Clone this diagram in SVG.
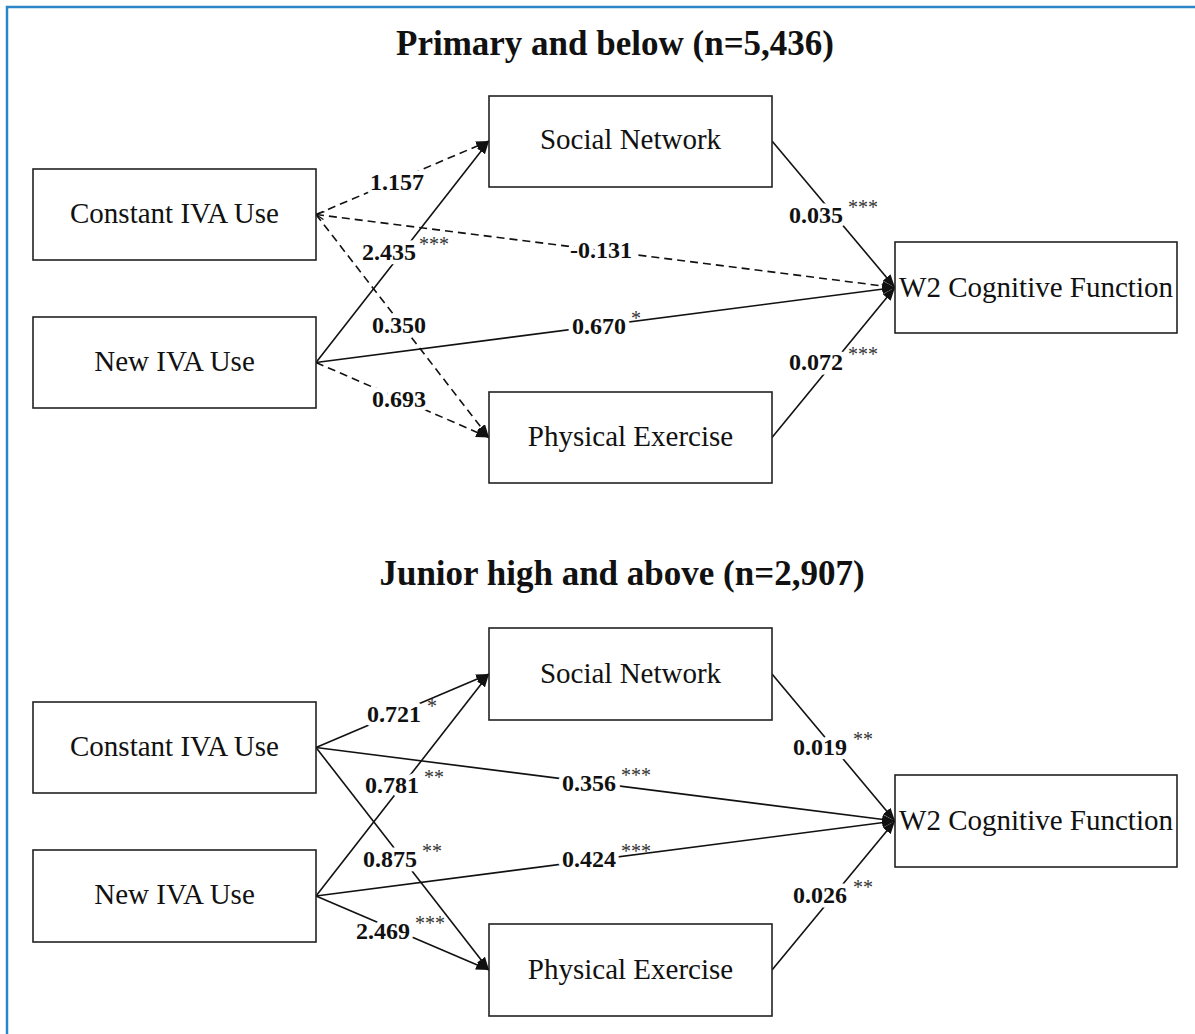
<svg xmlns="http://www.w3.org/2000/svg" width="1195" height="1034" viewBox="0 0 1195 1034">
<style>
text{font-family:"Liberation Serif","Times New Roman",serif;fill:#111}
.title{font-size:35px;font-weight:bold;text-anchor:middle}
.box{fill:#fff;stroke:#222;stroke-width:1.6}
.nt{font-size:29px;text-anchor:middle}
.ln{stroke:#111;stroke-width:1.6;fill:none;marker-end:url(#arr)}
.dash{stroke-dasharray:8 5}
.lbl{font-size:24px;font-weight:bold;text-anchor:middle;stroke:#fff;stroke-width:9;stroke-linejoin:round;paint-order:stroke}
.st{font-size:20px;fill:#333}
</style>
<defs>
<marker id="arr" viewBox="0 0 13 10" refX="13" refY="5" markerWidth="13" markerHeight="10" markerUnits="userSpaceOnUse" orient="auto">
<path d="M0,0 L13,5 L0,10 z" fill="#111"/>
</marker>
<marker id="chev" viewBox="-1 -5 10 10" refX="0" refY="0" markerWidth="10" markerHeight="10" markerUnits="userSpaceOnUse" orient="auto">
<path d="M8,-4 L0,0 L8,4" fill="none" stroke="#111" stroke-width="1.3"/>
</marker>
</defs>
<rect x="7" y="7" width="1200" height="1040" fill="none" stroke="#2a86c6" stroke-width="2.5"/>

<text class="title" x="615" y="55">Primary and below (n=5,436)</text>
<text class="title" x="622" y="585">Junior high and above (n=2,907)</text>

<g id="connectors">
<path class="ln dash" d="M316,214.5 L489,141"/>
<path class="ln dash" d="M316,214.5 L895,287.5" marker-start="url(#chev)"/>
<path class="ln dash" d="M316,214.5 L489,437.5"/>
<path class="ln" d="M316,362.5 L489,141"/>
<path class="ln" d="M316,362.5 L895,287.5"/>
<path class="ln dash" d="M316,362.5 L489,437.5"/>
<path class="ln" d="M772,141 L895,287.5"/>
<path class="ln" d="M772,437.5 L895,287.5"/>

<path class="ln" d="M316,747.5 L489,674"/>
<path class="ln" d="M316,747.5 L895,821"/>
<path class="ln" d="M316,747.5 L489,970"/>
<path class="ln" d="M316,896 L489,674"/>
<path class="ln" d="M316,896 L895,821"/>
<path class="ln" d="M316,896 L489,970"/>
<path class="ln" d="M772,674 L895,821"/>
<path class="ln" d="M772,970 L895,821"/>

<text class="lbl" x="397" y="190">1.157</text>
<text class="lbl" x="389" y="260">2.435</text><text class="st" x="419" y="251">***</text>
<text class="lbl" x="601" y="258">-0.131</text>
<text class="lbl" x="399" y="333">0.350</text>
<text class="lbl" x="599" y="334">0.670</text><text class="st" x="631" y="325">*</text>
<text class="lbl" x="399" y="407">0.693</text>
<text class="lbl" x="816" y="223">0.035</text><text class="st" x="848" y="214">***</text>
<text class="lbl" x="816" y="370">0.072</text><text class="st" x="848" y="361">***</text>

<text class="lbl" x="394" y="722">0.721</text><text class="st" x="427" y="713">*</text>
<text class="lbl" x="589" y="791">0.356</text><text class="st" x="621" y="782">***</text>
<text class="lbl" x="392" y="793">0.781</text><text class="st" x="424" y="784">**</text>
<text class="lbl" x="390" y="867">0.875</text><text class="st" x="422" y="858">**</text>
<text class="lbl" x="589" y="867">0.424</text><text class="st" x="621" y="858">***</text>
<text class="lbl" x="383" y="939">2.469</text><text class="st" x="415" y="930">***</text>
<text class="lbl" x="820" y="755">0.019</text><text class="st" x="853" y="746">**</text>
<text class="lbl" x="820" y="903">0.026</text><text class="st" x="853" y="894">**</text>
</g>

<g id="top-constant"><rect class="box" x="33" y="169" width="283" height="91"/><text class="nt" x="174.5" y="223">Constant IVA Use</text></g>
<g id="top-new"><rect class="box" x="33" y="317" width="283" height="91"/><text class="nt" x="174.5" y="371">New IVA Use</text></g>
<g id="top-social"><rect class="box" x="489" y="96" width="283" height="91"/><text class="nt" x="630.5" y="149">Social Network</text></g>
<g id="top-exercise"><rect class="box" x="489" y="392" width="283" height="91"/><text class="nt" x="630.5" y="446">Physical Exercise</text></g>
<g id="top-cognitive"><rect class="box" x="895" y="242" width="282" height="91"/><text class="nt" x="1036" y="297">W2 Cognitive Function</text></g>

<g id="bot-constant"><rect class="box" x="33" y="702" width="283" height="91"/><text class="nt" x="174.5" y="756">Constant IVA Use</text></g>
<g id="bot-new"><rect class="box" x="33" y="850" width="283" height="92"/><text class="nt" x="174.5" y="904">New IVA Use</text></g>
<g id="bot-social"><rect class="box" x="489" y="628" width="283" height="92"/><text class="nt" x="630.5" y="683">Social Network</text></g>
<g id="bot-exercise"><rect class="box" x="489" y="924" width="283" height="92"/><text class="nt" x="630.5" y="979">Physical Exercise</text></g>
<g id="bot-cognitive"><rect class="box" x="895" y="775" width="282" height="92"/><text class="nt" x="1036" y="830">W2 Cognitive Function</text></g>
</svg>
